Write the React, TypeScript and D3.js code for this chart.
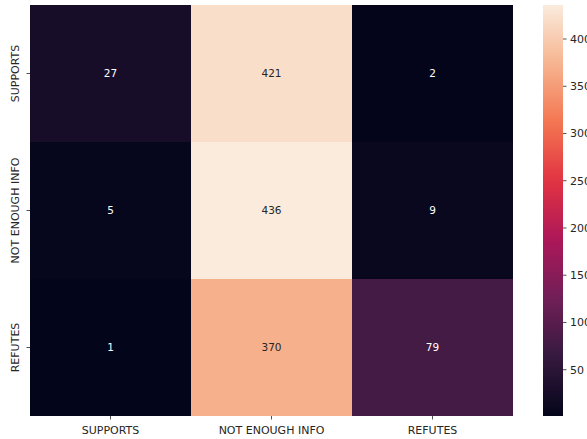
import React from "react";
import * as d3 from "d3";

const labels = ["SUPPORTS", "NOT ENOUGH INFO", "REFUTES"];
// rows: true label, columns: predicted label
const matrix = [
  [27, 421, 2],
  [5, 436, 9],
  [1, 370, 79],
];
const colorbarTicks = [50, 100, 150, 200, 250, 300, 350, 400];

// rocket colormap anchor points
const rocketStops = [0, 1 / 7, 2 / 7, 3 / 7, 4 / 7, 5 / 7, 6 / 7, 1];
const rocketColors = [
  "#03051a",
  "#35193e",
  "#701f57",
  "#ad1759",
  "#e13342",
  "#f37651",
  "#f6b48f",
  "#faebdd",
];

const W = 587;
const H = 439;
const left = 30;
const right = 513;
const top = 5;
const bottom = 416;
const cbLeft = 543;
const cbRight = 563;
const font = "DejaVu Sans, sans-serif";
const textColor = "#262626";
const tickFont = 11;
const annotFont = 10.5;

export default function App() {
  const flat = matrix.flat();
  const vmin = d3.min(flat)!;
  const vmax = d3.max(flat)!;
  const norm = d3.scaleLinear().domain([vmin, vmax]).range([0, 1]).clamp(true);
  const cmap = d3
    .scaleLinear<string>()
    .domain(rocketStops)
    .range(rocketColors)
    .interpolate(d3.interpolateRgb);
  const color = (v: number) => cmap(norm(v));

  const x = d3.scaleBand().domain(labels).range([left, right]);
  const y = d3.scaleBand().domain(labels).range([top, bottom]);
  const cbY = d3.scaleLinear().domain([vmin, vmax]).range([bottom, top]);

  const lum = (c: string) => {
    const rgb = d3.rgb(c);
    const f = (u: number) => {
      const s = u / 255;
      return s <= 0.03928 ? s / 12.92 : Math.pow((s + 0.055) / 1.055, 2.4);
    };
    return 0.2126 * f(rgb.r) + 0.7152 * f(rgb.g) + 0.0722 * f(rgb.b);
  };

  const gradSteps = d3.range(0, 1.0001, 0.02);

  return (
    <svg
      width={W}
      height={H}
      style={{ position: "absolute", left: 0, top: 0, background: "#fff" }}
      fontFamily={font}
    >
      <defs>
        <linearGradient id="cbgrad" x1="0" y1="1" x2="0" y2="0">
          {gradSteps.map((t) => (
            <stop key={t} offset={t} stopColor={cmap(t)} />
          ))}
        </linearGradient>
      </defs>
      {matrix.map((row, i) =>
        row.map((v, j) => {
          const c = color(v);
          const cx = x(labels[j])!;
          const cy = y(labels[i])!;
          return (
            <g key={`${i}-${j}`}>
              <rect
                x={cx}
                y={cy}
                width={x.bandwidth()}
                height={y.bandwidth()}
                fill={c}
                shapeRendering="crispEdges"
              />
              <text
                x={cx + x.bandwidth() / 2}
                y={cy + y.bandwidth() / 2}
                dy="0.35em"
                textAnchor="middle"
                fontSize={annotFont}
                fill={lum(c) > 0.408 ? textColor : "#ffffff"}
              >
                {v}
              </text>
            </g>
          );
        })
      )}
      {/* x axis */}
      {labels.map((l) => {
        const cx = x(l)! + x.bandwidth() / 2;
        return (
          <g key={`x-${l}`}>
            <line x1={cx} x2={cx} y1={bottom} y2={bottom + 3.5} stroke={textColor} strokeWidth={0.8} />
            <text x={cx} y={bottom + 18} textAnchor="middle" fontSize={tickFont} fill={textColor}>
              {l}
            </text>
          </g>
        );
      })}
      {/* y axis */}
      {labels.map((l) => {
        const cy = y(l)! + y.bandwidth() / 2;
        return (
          <g key={`y-${l}`}>
            <line x1={left - 3.5} x2={left} y1={cy} y2={cy} stroke={textColor} strokeWidth={0.8} />
            <text
              transform={`translate(${left - 11},${cy}) rotate(-90)`}
              textAnchor="middle"
              fontSize={tickFont}
              fill={textColor}
            >
              {l}
            </text>
          </g>
        );
      })}
      {/* colorbar */}
      <rect x={cbLeft} y={top} width={cbRight - cbLeft} height={bottom - top} fill="url(#cbgrad)" />
      {colorbarTicks.map((t) => (
        <g key={`cb-${t}`}>
          <line x1={cbRight} x2={cbRight + 3.5} y1={cbY(t)} y2={cbY(t)} stroke={textColor} strokeWidth={0.8} />
          <text x={cbRight + 7} y={cbY(t)} dy="0.35em" fontSize={tickFont} fill={textColor}>
            {t}
          </text>
        </g>
      ))}
    </svg>
  );
}
